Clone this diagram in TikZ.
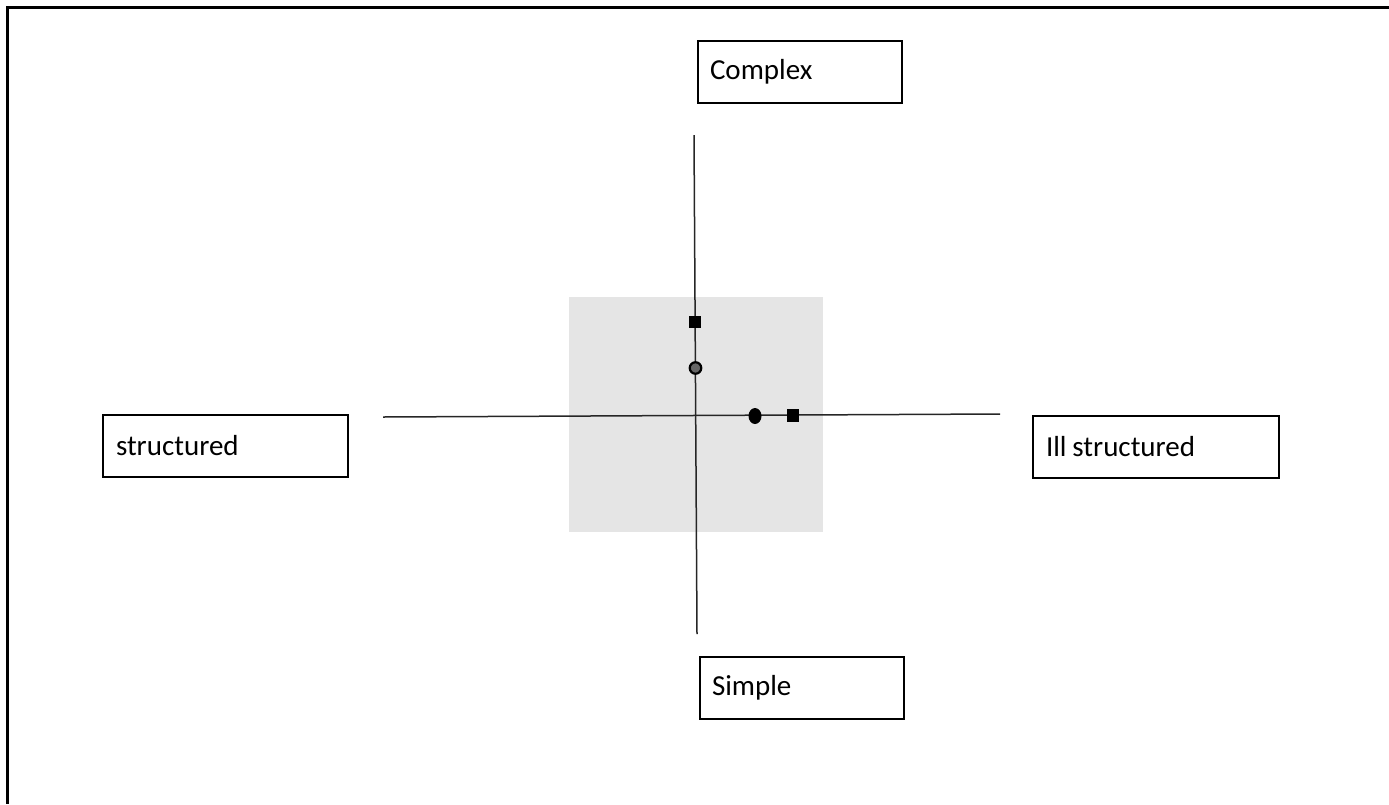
\documentclass[tikz,border=0pt]{standalone}
\usepackage{fontspec}
\setmainfont{Carlito}
\usetikzlibrary{shapes.geometric}
\begin{document}
\begin{tikzpicture}[x=1pt,y=-1pt,
  labelbox/.style={draw=black, line width=2pt, fill=white, minimum height=62pt,
    text width=180pt, inner xsep=12pt, align=left, font=\fontsize{29}{34}\selectfont},
  axis/.style={line width=1.5pt, draw=black!85},
  sqmark/.style={rectangle, fill=black, minimum size=12.5pt, inner sep=0pt},
  dotmark/.style={circle, fill=black!60, draw=black, line width=2.2pt, minimum size=11.5pt, inner sep=0pt},
  ovalmark/.style={ellipse, fill=black, minimum width=13pt, minimum height=16pt, inner sep=0pt}]
\useasboundingbox (0,0) rectangle (1389,804);
% outer frame (runs off the page at right and bottom)
\draw[line width=3pt] (1389,7) -- (7,7) -- (7,804);
% grey square
\fill[black!10] (569,297) rectangle (823,532);
% axes
\coordinate (top) at (694,135);
\coordinate (bot) at (697,634);
\coordinate (left) at (383,417);
\coordinate (right) at (1000,414);
\draw[axis] (top) -- (bot);
\draw[axis] (left) -- (right);
% markers
\node[sqmark] (m1) at (695,322) {};
\node[dotmark] (m2) at (695.5,368) {};
\node[ovalmark] (m3) at (755,416) {};
\node[sqmark] (m4) at (793,415.5) {};
% label boxes
\node[labelbox] (complex) at (800,72) {Complex};
\node[labelbox, minimum width=245pt, text width=219pt] (structured) at (225.5,446) {structured};
\node[labelbox, minimum width=246pt, text width=220pt] (ill) at (1156,446.5) {Ill\hspace{0.2em}structured};
\node[labelbox] (simple) at (802,688) {Simple};
\end{tikzpicture}
\end{document}
